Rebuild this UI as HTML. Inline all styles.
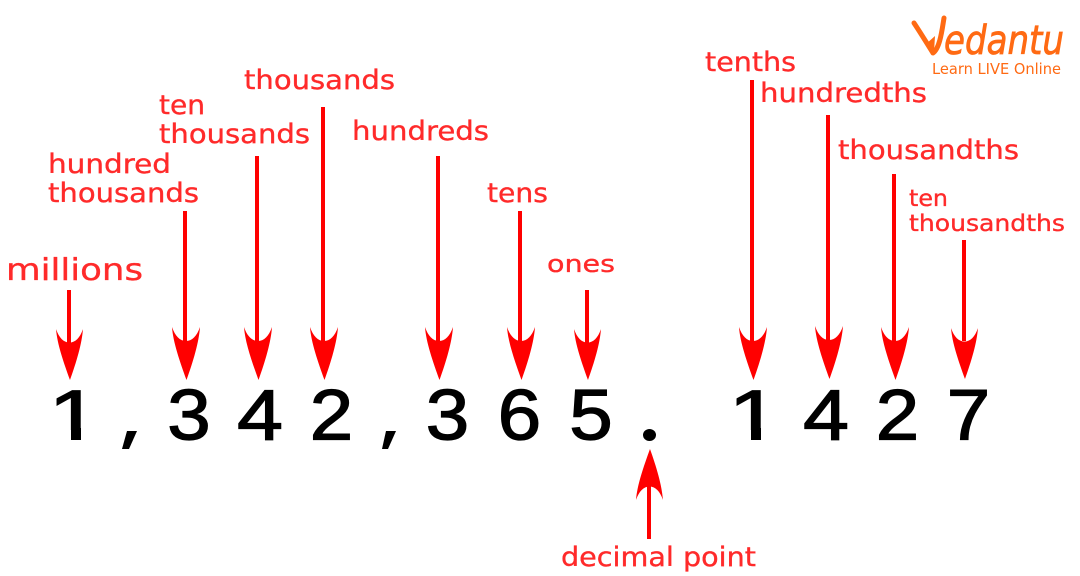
<!DOCTYPE html>
<html><head><meta charset="utf-8"><style>
html,body{margin:0;padding:0;background:#fff;width:1080px;height:576px;overflow:hidden}
svg{display:block}
.l{font-family:"DejaVu Sans",sans-serif;fill:#ff2a2a;stroke:#ff2a2a;stroke-width:.35px;font-size:27px}
.d{font-family:"Liberation Sans",sans-serif;fill:#000;stroke:#000;stroke-width:1.3px;font-size:71px;text-anchor:middle}
</style></head><body>
<svg width="1080" height="576" viewBox="0 0 1080 576" xmlns="http://www.w3.org/2000/svg">
<defs>
<g id="a"><path d="M-14 -53 C-11 -44 -6 -39 0 -39 C6 -39 11 -44 14 -53 C13 -38 7 -18 0.5 0 C-6 -18 -13 -38 -14 -53Z" fill="#f00"/></g>
<clipPath id="c"><rect x="0" y="370" width="1080" height="60"/></clipPath>
</defs>
<g class="lb">
<text class="l" x="6" y="280" style="font-size:30px" textLength="137" lengthAdjust="spacingAndGlyphs">millions</text>
<text class="l" x="48" y="173" textLength="123" lengthAdjust="spacingAndGlyphs">hundred</text>
<text class="l" x="48" y="202" textLength="151" lengthAdjust="spacingAndGlyphs">thousands</text>
<text class="l" x="159" y="114" textLength="46" lengthAdjust="spacingAndGlyphs">ten</text>
<text class="l" x="159" y="143" textLength="151" lengthAdjust="spacingAndGlyphs">thousands</text>
<text class="l" x="244" y="89" textLength="151" lengthAdjust="spacingAndGlyphs">thousands</text>
<text class="l" x="352" y="140" textLength="137" lengthAdjust="spacingAndGlyphs">hundreds</text>
<text class="l" x="487" y="202" textLength="61" lengthAdjust="spacingAndGlyphs">tens</text>
<text class="l" x="547" y="272" style="font-size:24px" textLength="68" lengthAdjust="spacingAndGlyphs">ones</text>
<text class="l" x="705" y="71" textLength="91" lengthAdjust="spacingAndGlyphs">tenths</text>
<text class="l" x="760" y="102" textLength="167" lengthAdjust="spacingAndGlyphs">hundredths</text>
<text class="l" x="838" y="159" textLength="181" lengthAdjust="spacingAndGlyphs">thousandths</text>
<text class="l" x="909" y="206" style="font-size:23px" textLength="39" lengthAdjust="spacingAndGlyphs">ten</text>
<text class="l" x="909" y="231" style="font-size:23px" textLength="156" lengthAdjust="spacingAndGlyphs">thousandths</text>
<text class="l" x="561" y="566" textLength="195" lengthAdjust="spacingAndGlyphs">decimal point</text>
</g>
<g fill="#f00">
<rect x="67" y="290" width="4" height="60"/><use href="#a" transform="translate(69.5,380) scale(.96,.96)"/>
<rect x="183" y="211" width="4" height="130"/><use href="#a" transform="translate(186,380)"/>
<rect x="255" y="156" width="4" height="185"/><use href="#a" transform="translate(258,380)"/>
<rect x="321" y="107" width="4" height="234"/><use href="#a" transform="translate(324,380)"/>
<rect x="436" y="156" width="4" height="185"/><use href="#a" transform="translate(439,380)"/>
<rect x="518" y="211" width="4" height="130"/><use href="#a" transform="translate(521,380)"/>
<rect x="585" y="290" width="4" height="60"/><use href="#a" transform="translate(587.5,380) scale(.96,.96)"/>
<rect x="750" y="80" width="4" height="261"/><use href="#a" transform="translate(753,380)"/>
<rect x="826" y="115" width="4" height="226"/><use href="#a" transform="translate(829,379)"/>
<rect x="892" y="174" width="4" height="167"/><use href="#a" transform="translate(895,380)"/>
<rect x="962" y="240" width="4" height="101"/><use href="#a" transform="translate(964.5,379) scale(.96,.96)"/>
<rect x="647" y="480" width="4" height="59"/><use href="#a" transform="translate(649.5,449) scale(.96,-.96)"/>
</g>
<g clip-path="url(#c)"><text class="d" transform="translate(74.2,440) scale(1.3,1)">1</text><text class="d" transform="translate(754.2,440) scale(1.3,1)">1</text></g>
<rect x="71" y="428" width="10" height="12" fill="#000"/>
<rect x="751" y="428" width="10" height="12" fill="#000"/>
<g class="dg">
<text class="d" transform="translate(189,439.500) scale(1.1,1)">3</text>
<text class="d" transform="translate(260,439.500) scale(1.16,1)">4</text>
<text class="d" transform="translate(331.500,439.500) scale(1.1,1)">2</text>
<text class="d" transform="translate(447.500,439.500) scale(1.1,1)">3</text>
<text class="d" transform="translate(519.500,439.500) scale(1.1,1)">6</text>
<text class="d" transform="translate(591,439.500) scale(1.1,1)">5</text>
<text class="d" transform="translate(826,439.500) scale(1.16,1)">4</text>
<text class="d" transform="translate(897.500,439.500) scale(1.1,1)">2</text>
<text class="d" transform="translate(968.500,439.500) scale(1.1,1)">7</text>
</g>
<path d="M127 431H137L129 449H122Z" fill="#000"/>
<path d="M386 431H396L388 449H382Z" fill="#000"/>
<ellipse cx="649.500" cy="435" rx="6.500" ry="6" fill="#000"/>
<path d="M914 23C920 32 928 45 933 53C940 48 942 30 944 18" fill="none" stroke="#ff6a13" stroke-width="5" stroke-linecap="round" stroke-linejoin="round"/>
<path d="M926 44L935 36L934 52Z" fill="#ff6a13"/>
<text x="944" y="54" textLength="120" lengthAdjust="spacingAndGlyphs" style="font-family:'DejaVu Sans',sans-serif;font-style:italic;font-size:40px;fill:#ff6a13;stroke:#ff6a13;stroke-width:.8px">edantu</text>
<text x="932" y="74" textLength="129" lengthAdjust="spacingAndGlyphs" style="font-family:'DejaVu Sans',sans-serif;font-size:15px;fill:#ff6a13">Learn LIVE Online</text>
</svg>
</body></html>
